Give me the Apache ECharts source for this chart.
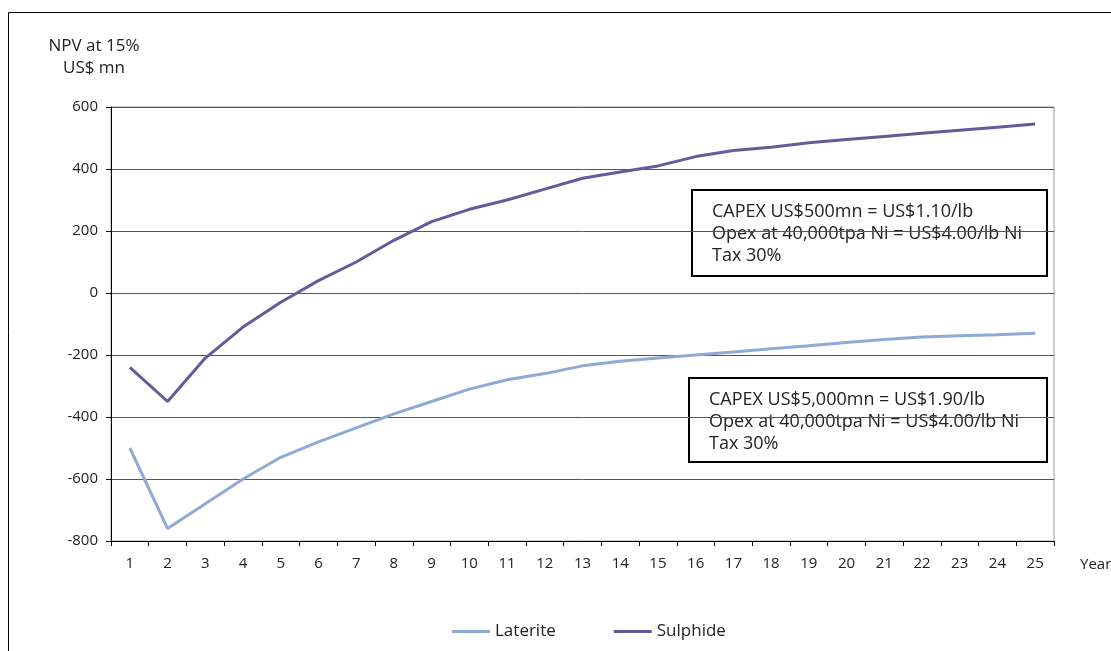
<!DOCTYPE html>
<html>
<head>
<meta charset="utf-8">
<script src="https://cdn.jsdelivr.net/npm/echarts@6/dist/echarts.min.js"></script>
<style>
  html, body { margin: 0; padding: 0; background: #fff; }
  #chart { width: 1111px; height: 651px; }
</style>
</head>
<body>
<div id="chart"></div>
<script>
// Project years on the horizontal axis
const years = ['1','2','3','4','5','6','7','8','9','10','11','12','13','14','15','16','17','18','19','20','21','22','23','24','25'];

// NPV at 15% discount, US$ mn
const laterite = [-500, -760, -680, -600, -530, -480, -435, -390, -350, -310, -280, -260, -235, -220, -210, -200, -190, -180, -170, -160, -150, -142, -138, -135, -130];
const sulphide = [-240, -350, -210, -110, -30, 40, 100, 170, 230, 270, 300, 335, 370, 390, 410, 440, 460, 470, 485, 495, 505, 515, 525, 535, 545];

// Assumption notes for each project type
const sulphideNotes = ['CAPEX US$500mn = US$1.10/lb', 'Opex at 40,000tpa Ni = US$4.00/lb Ni', 'Tax 30%'];
const lateriteNotes = ['CAPEX US$5,000mn = US$1.90/lb', 'Opex at 40,000tpa Ni = US$4.00/lb Ni', 'Tax 30%'];

const FONT = '"Open Sans", "Noto Sans", sans-serif';
const TEXT = '#222';

function noteBox(x, y, w, h, lines) {
  return {
    type: 'group',
    left: x, top: y,
    children: [
      { type: 'rect', shape: { x: 0, y: 0, width: w, height: h },
        style: { fill: '#fff', stroke: '#000', lineWidth: 2 } },
      { type: 'text', x: 20, y: 11,
        style: { text: lines.join('\n'), font: '18px ' + FONT, fill: TEXT, lineHeight: 22 } }
    ]
  };
}

const chart = echarts.init(document.getElementById('chart'), null, { renderer: 'canvas' });
chart.setOption({
  animation: false,
  backgroundColor: '#fff',
  textStyle: { fontFamily: FONT },
  grid: {
    left: 111, right: 57, top: 107, bottom: 110,
    outerBoundsMode: 'none', containLabel: false,
    show: true, borderColor: '#999', borderWidth: 1
  },
  legend: {
    top: 618, left: 447, itemGap: 58, itemWidth: 38, itemHeight: 3,
    icon: 'rect',
    textStyle: { fontSize: 17, color: TEXT, fontFamily: FONT, padding: [0, 0, 0, 0] },
    data: ['Laterite', 'Sulphide']
  },
  xAxis: {
    type: 'category', data: years, boundaryGap: true,
    name: 'Year', nameLocation: 'end', nameGap: 26,
    nameTextStyle: { fontSize: 15, color: TEXT, verticalAlign: 'top', padding: [16, 0, 0, 0] },
    axisLine: { onZero: false, lineStyle: { color: '#000', width: 1 } },
    axisTick: { show: true, length: 5, lineStyle: { color: '#000' } },
    axisLabel: { fontSize: 15, color: TEXT, margin: 15 },
    splitLine: { show: false }
  },
  yAxis: {
    type: 'value', min: -800, max: 600, interval: 200,
    name: 'NPV at 15%\nUS$ mn', nameLocation: 'end', nameGap: 28,
    nameTextStyle: { fontSize: 17, color: TEXT, align: 'center', lineHeight: 22, padding: [0, 0, 0, -34] },
    axisLine: { show: true, lineStyle: { color: '#000', width: 1 } },
    axisTick: { show: true, length: 5, lineStyle: { color: '#000' } },
    axisLabel: { fontSize: 15, color: TEXT, margin: 13 },
    splitLine: { show: true, lineStyle: { color: '#555', width: 1 } }
  },
  series: [
    { name: 'Laterite', type: 'line', data: laterite, symbol: 'none',
      lineStyle: { color: '#8eaad6', width: 3 }, itemStyle: { color: '#8eaad6' } },
    { name: 'Sulphide', type: 'line', data: sulphide, symbol: 'none',
      lineStyle: { color: '#615c9b', width: 3 }, itemStyle: { color: '#615c9b' } }
  ],
  graphic: [
    { type: 'rect', z: -10, shape: { x: 8.5, y: 12.5, width: 1200, height: 700 },
      style: { fill: null, stroke: '#000', lineWidth: 1 } },
    noteBox(691, 189, 355, 86, sulphideNotes),
    noteBox(688, 377, 358, 84, lateriteNotes)
  ]
});
</script>
</body>
</html>
